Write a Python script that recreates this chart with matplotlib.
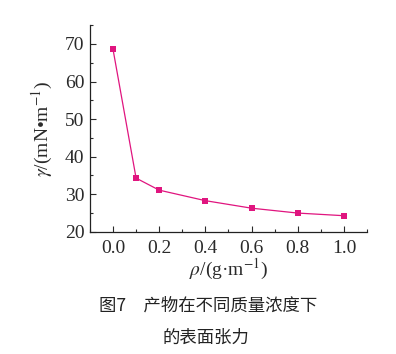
import matplotlib
matplotlib.use("Agg")
import matplotlib.pyplot as plt
from matplotlib.ticker import MultipleLocator

# data
concentration = [0.0, 0.1, 0.2, 0.4, 0.6, 0.8, 1.0]
tension = [68.6, 34.3, 31.1, 28.3, 26.3, 25.0, 24.3]
x_ticks = [0.0, 0.2, 0.4, 0.6, 0.8, 1.0]
y_ticks = [20, 30, 40, 50, 60, 70]

plt.rcParams["font.family"] = ["Liberation Serif", "DejaVu Serif"]
plt.rcParams["mathtext.fontset"] = "stix"

fig = plt.figure(figsize=(3.96, 3.54), dpi=100)
ax = fig.add_axes([0.227, 0.345, 0.700, 0.584])

ax.plot(concentration, tension, color="#e0157f", lw=0.9, marker="s",
        markersize=4.2, markeredgewidth=0)

ax.set_xlim(-0.1, 1.1)
ax.set_ylim(20, 75)
ax.set_xticks(x_ticks)
ax.set_xticklabels([f"{v:.1f}" for v in x_ticks])
ax.set_yticks(y_ticks)
ax.xaxis.set_minor_locator(MultipleLocator(0.1))
ax.yaxis.set_minor_locator(MultipleLocator(5))
ax.tick_params(which="both", direction="in", labelsize=14, colors="#2a2a2a",
               width=0.8)
ax.tick_params(which="major", length=4)
ax.tick_params(which="minor", length=2.5)
ax.tick_params(axis="x", pad=6)
ax.tick_params(axis="y", pad=4)
for s in ["top", "right"]:
    ax.spines[s].set_visible(False)
for s in ["left", "bottom"]:
    ax.spines[s].set_linewidth(0.9)
    ax.spines[s].set_color("#222222")

ax.set_ylabel(r"$\gamma$/(mN•m$^{-1}$)", fontsize=14, color="#2a2a2a")
ax.yaxis.set_label_coords(-0.125, 0.5)
ax.set_xlabel(r"$\rho$/(g·m$^{-1}$)", fontsize=14, color="#2a2a2a",
              labelpad=0)

cjk = ["Noto Sans CJK SC", "DejaVu Sans"]
fig.text(0.525, 1 - 306 / 354, "图7　产物在不同质量浓度下", family=cjk,
         fontsize=12.5, ha="center", va="center", color="#222222")
fig.text(0.52, 1 - 338 / 354, "的表面张力", family=cjk,
         fontsize=12.5, ha="center", va="center", color="#222222")

fig.savefig("out.png", dpi=100, facecolor="white")
